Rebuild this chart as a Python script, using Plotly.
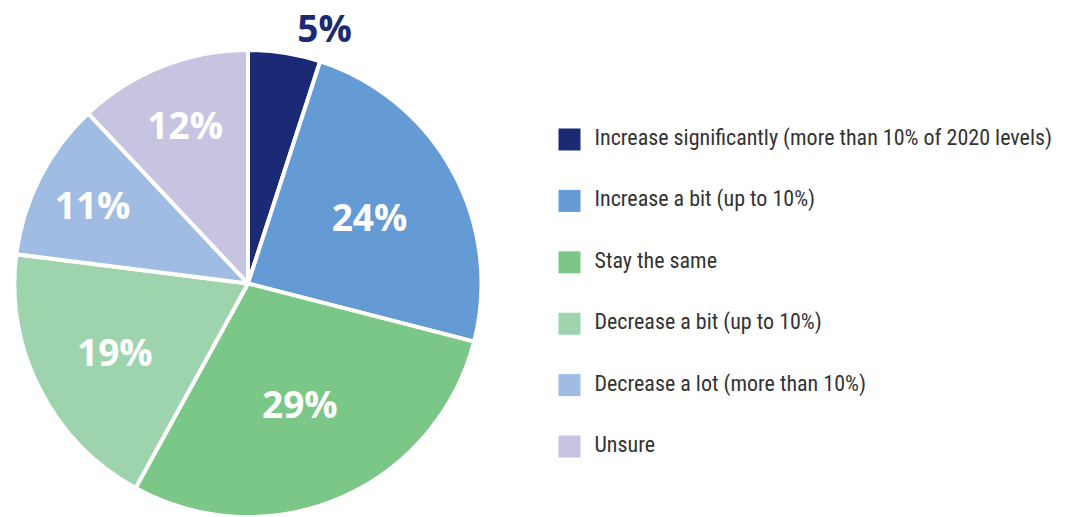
import plotly.graph_objects as go

labels = [
    "Increase significantly (more than 10% of 2020 levels)",
    "Increase a bit (up to 10%)",
    "Stay the same",
    "Decrease a bit (up to 10%)",
    "Decrease a lot (more than 10%)",
    "Unsure",
]
values = [5, 24, 29, 19, 11, 12]
colors = ["#1b2a74", "#659bd4", "#7bc787", "#9dd4ae", "#a1bce3", "#c7c4e1"]
text_pos = ["outside", "inside", "inside", "inside", "inside", "inside"]
text_colors = ["#1b2a74", "white", "white", "white", "white", "white"]

W, H = 1073, 517
fig = go.Figure()

fig.add_trace(go.Pie(
    labels=labels,
    values=values,
    sort=False,
    direction="clockwise",
    rotation=0,
    automargin=False,
    marker=dict(colors=colors, line=dict(color="white", width=4)),
    texttemplate="%{percent:.0%}",
    textinfo="percent",
    textposition=text_pos,
    insidetextorientation="horizontal",
    textfont=dict(family="Open Sans", size=37, weight="bold", color=text_colors),
    showlegend=False,
    domain=dict(x=[10 / W, 486 / W], y=[0, 1 - 50 / H]),
    hoverinfo="label+percent",
))

# Legend built as a scatter: categories on a hidden y axis
idx = list(range(len(labels)))
fig.add_trace(go.Scatter(
    x=[0] * len(labels), y=idx, mode="markers",
    marker=dict(symbol="square", size=22, color=colors),
    showlegend=False, hoverinfo="skip", xaxis="x", yaxis="y",
))
fig.add_trace(go.Scatter(
    x=[1] * len(labels), y=idx, mode="text", text=labels,
    textposition="middle right",
    textfont=dict(family="Liberation Sans Narrow, Roboto Condensed, Roboto", size=22, color="#333333"),
    showlegend=False, hoverinfo="skip", xaxis="x", yaxis="y",
))

x0 = 557 / W
fig.update_layout(
    width=W, height=H,
    margin=dict(l=0, r=0, t=0, b=0, autoexpand=False),
    paper_bgcolor="white", plot_bgcolor="white",
    xaxis=dict(domain=[x0, 1], range=[-0.5, (W - 557) / 25.0 - 0.5], visible=False, fixedrange=True),
    yaxis=dict(domain=[0, 1], range=[6.148, -2.272], visible=False, fixedrange=True),
)

fig.write_html("out.html")
